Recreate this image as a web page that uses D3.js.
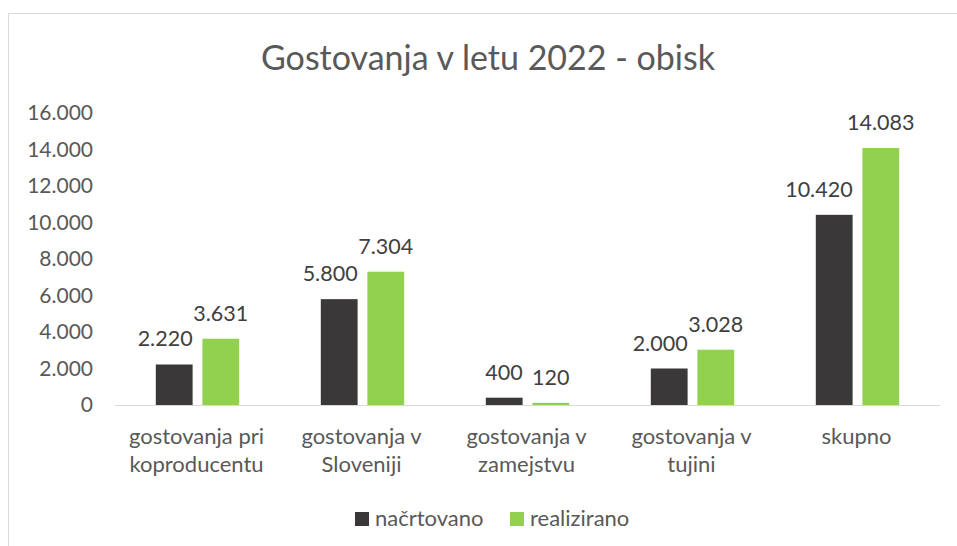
<!DOCTYPE html>
<html>
<head>
<meta charset="utf-8">
<script src="https://cdn.jsdelivr.net/npm/d3@7"></script>
<style>
  body { margin: 0; background: #fff; }
  text { font-family: Lato, "Open Sans", sans-serif; }
</style>
</head>
<body>
<script>
var categories = [
  ["gostovanja pri", "koproducentu"],
  ["gostovanja v", "Sloveniji"],
  ["gostovanja v", "zamejstvu"],
  ["gostovanja v", "tujini"],
  ["skupno"]
];
var seriesNames = ["načrtovano", "realizirano"];
var planned = [2220, 5800, 400, 2000, 10420];
var realized = [3631, 7304, 120, 3028, 14083];
var yTicks = [0, 2000, 4000, 6000, 8000, 10000, 12000, 14000, 16000];

var width = 957, height = 546;
var colors = ["#3a3838", "#92d050"];
var fmt = d3.formatLocale({ decimal: ",", thousands: ".", grouping: [3], currency: ["", ""] }).format(",");

var svg = d3.select("body").append("svg")
    .attr("width", width)
    .attr("height", height);

// chart border (runs off the right and bottom edge like the original)
svg.append("rect")
    .attr("x", 8.5).attr("y", 13.5)
    .attr("width", 960).attr("height", 560)
    .attr("fill", "#fff")
    .attr("stroke", "#d9d9d9");

svg.append("text")
    .attr("x", 488).attr("y", 70)
    .attr("text-anchor", "middle")
    .attr("font-size", 34)
    .attr("fill", "#595959")
    .text("Gostovanja v letu 2022 - obisk");

var x = d3.scaleBand()
    .domain(d3.range(categories.length))
    .range([115, 940]);

var y = d3.scaleLinear().domain([0, 16000]).range([405, 113]);

var groupW = 83.4;
var inner = d3.scaleBand().domain([0, 1]).range([0, groupW]).paddingInner(0.21);

// y labels
svg.append("g").selectAll("text")
    .data(yTicks)
  .enter().append("text")
    .attr("x", 93)
    .attr("y", function(d) { return y(d); })
    .attr("dy", "0.35em")
    .attr("text-anchor", "end")
    .attr("font-size", 21)
    .attr("fill", "#595959")
    .text(fmt);

var groups = svg.append("g").selectAll("g")
    .data(categories.map(function(c, i) { return { i: i, vals: [planned[i], realized[i]] }; }))
  .enter().append("g")
    .attr("transform", function(d) { return "translate(" + (x(d.i) + x.bandwidth() / 2 - groupW / 2) + ",0)"; });

groups.selectAll("rect")
    .data(function(d) { return d.vals; })
  .enter().append("rect")
    .attr("x", function(d, j) { return inner(j); })
    .attr("width", inner.bandwidth())
    .attr("y", function(d) { return y(d); })
    .attr("height", function(d) { return y(0) - y(d); })
    .attr("fill", function(d, j) { return colors[j]; });

// planned labels sit flush with the bar's right edge, realized labels are centred
groups.selectAll("text.val")
    .data(function(d) { return d.vals; })
  .enter().append("text")
    .attr("class", "val")
    .attr("x", function(d, j) { return j === 0 ? inner(j) + inner.bandwidth() : inner(j) + inner.bandwidth() / 2; })
    .attr("y", function(d) { return y(d) - 18; })
    .attr("text-anchor", function(d, j) { return j === 0 ? "end" : "middle"; })
    .attr("font-size", 21.5)
    .attr("fill", "#404040")
    .text(fmt);

// x axis line
svg.append("line")
    .attr("x1", 115).attr("x2", 940)
    .attr("y1", y(0) + 0.5).attr("y2", y(0) + 0.5)
    .attr("stroke", "#d9d9d9");

// category labels
var cat = svg.append("g").selectAll("text")
    .data(categories)
  .enter().append("text")
    .attr("text-anchor", "middle")
    .attr("font-size", 22)
    .attr("fill", "#595959")
    .attr("transform", function(d, i) { return "translate(" + (x(i) + x.bandwidth() / 2 - 1) + ",444)"; });
cat.selectAll("tspan")
    .data(function(d) { return d; })
  .enter().append("tspan")
    .attr("x", 0)
    .attr("y", function(d, k) { return k * 28; })
    .text(function(d) { return d; });

// legend
var legX = [355, 510];
var leg = svg.append("g").selectAll("g")
    .data(seriesNames)
  .enter().append("g")
    .attr("transform", function(d, i) { return "translate(" + legX[i] + ",512)"; });
leg.append("rect")
    .attr("width", 14).attr("height", 14)
    .attr("fill", function(d, i) { return colors[i]; });
leg.append("text")
    .attr("x", 20).attr("y", 14)
    .attr("font-size", 22)
    .attr("fill", "#595959")
    .text(function(d) { return d; });
</script>
</body>
</html>
